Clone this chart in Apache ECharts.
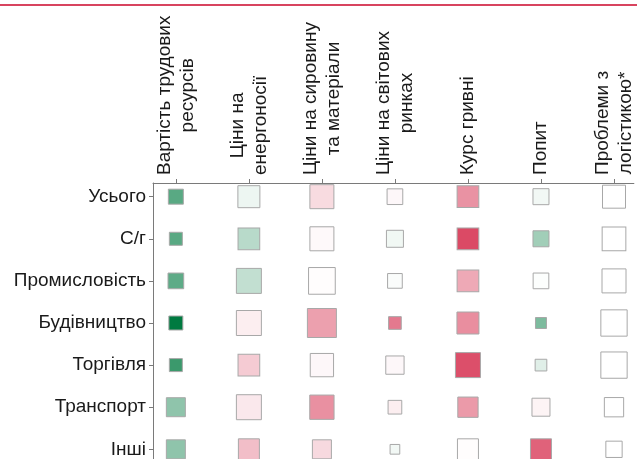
<!DOCTYPE html>
<html><head><meta charset="utf-8">
<script src="https://cdn.jsdelivr.net/npm/echarts@6/dist/echarts.min.js"></script>
<style>html,body{margin:0;padding:0;background:#fff}#c{width:637px;height:459px}</style>
</head><body><div id="c"></div>
<script>
const columns = ['Вартість трудових\nресурсів', 'Ціни на\nенергоносії', 'Ціни на сировину\nта матеріали', 'Ціни на світових\nринках', 'Курс гривні', 'Попит', 'Проблеми з\nлогістикою*'];
const rows = ['Усього', 'С/г', 'Промисловість', 'Будівництво', 'Торгівля', 'Транспорт', 'Інші'];

// magnitude (square side) per row, across columns
const sizeTotal    = [16, 23, 25, 16.7, 22.7, 17, 24];
const sizeAgri     = [14, 22.7, 25, 18, 22.7, 17, 24.7];
const sizeIndustry = [16.7, 26, 27.7, 15.7, 22.7, 16.7, 25];
const sizeConstr   = [15, 26, 30, 13.7, 23, 12, 27.3];
const sizeTrade    = [14, 22.7, 24.3, 19.3, 26, 12.7, 27.3];
const sizeTransp   = [20, 26, 25.3, 14.7, 21.3, 19, 20.3];
const sizeOther    = [20, 22, 20, 10.7, 22, 22, 17.3];

// direction score (-1 green … +1 red) per row, across columns
const scoreTotal    = [-0.65, -0.07, 0.19, 0.04, 0.57, -0.05, 0];
const scoreAgri     = [-0.65, -0.28, 0.03, -0.055, 0.95, -0.37, 0];
const scoreIndustry = [-0.63, -0.24, 0.01, -0.02, 0.45, -0.01, 0];
const scoreConstr   = [-1, 0.09, 0.5, 0.7, 0.59, -0.51, 0];
const scoreTrade    = [-0.77, 0.27, 0.04, 0.04, 0.92, -0.12, 0];
const scoreTransp   = [-0.44, 0.12, 0.58, 0.09, 0.53, 0.06, 0];
const scoreOther    = [-0.44, 0.34, 0.2, -0.05, 0.01, 0.82, 0];

const sizes = [sizeTotal, sizeAgri, sizeIndustry, sizeConstr, sizeTrade, sizeTransp, sizeOther];
const scores = [scoreTotal, scoreAgri, scoreIndustry, scoreConstr, scoreTrade, scoreTransp, scoreOther];

const data = [];
rows.forEach((r, j) => columns.forEach((c, i) => data.push([i, j, sizes[j][i], scores[j][i]])));

const idx = columns.map((c, i) => i);
const ridx = rows.map((r, i) => i);
const FONT = '"Liberation Sans", Arial, sans-serif';
const FS = 19;
const chart = echarts.init(document.getElementById('c'), null, {renderer: 'canvas'});
chart.setOption({
  animation: false,
  backgroundColor: '#fff',
  grid: {left: 153, right: 0, top: 183, bottom: 0, containLabel: false},
  xAxis: {
    type: 'value', position: 'top', min: -0.313, max: 6.272,
    splitLine: {show: false},
    axisLine: {show: true, onZero: false, lineStyle: {color: '#7a7a7a', width: 1}},
    axisTick: {show: true, length: 4, customValues: idx, lineStyle: {color: '#7a7a7a'}},
    axisLabel: {
      customValues: idx, rotate: -90, margin: 8, color: '#1a1a1a', fontSize: FS, fontFamily: FONT,
      lineHeight: 23,
      formatter: v => columns[Math.round(v)].split('\n').map(s => '{a|' + s + '}').join('\n'),
      rich: {a: {align: 'center', fontSize: FS, fontFamily: FONT, color: '#1a1a1a', lineHeight: 23}}
    }
  },
  yAxis: {
    type: 'value', inverse: true, min: -0.325, max: 6.23,
    splitLine: {show: false},
    axisLine: {show: true, onZero: false, lineStyle: {color: '#7a7a7a', width: 1}},
    axisTick: {show: true, length: 4, customValues: ridx, lineStyle: {color: '#7a7a7a'}},
    axisLabel: {customValues: ridx, margin: 7, color: '#1a1a1a', fontSize: FS, fontFamily: FONT,
      formatter: v => rows[Math.round(v)]}
  },
  visualMap: {show: false, type: 'continuous', dimension: 3, min: -1, max: 1, seriesIndex: 0,
    inRange: {color: ['#007a40', '#ffffff', '#d9405d']}},
  series: [{
    type: 'scatter', symbol: 'rect', data: data,
    symbolSize: v => v[2] - 1,
    itemStyle: {borderColor: '#a8a8a8', borderWidth: 1, opacity: 1}
  }],
  graphic: [{type: 'rect', left: 0, top: 4, shape: {width: 637, height: 2}, style: {fill: '#d8445f'}}]
});
</script></body></html>
